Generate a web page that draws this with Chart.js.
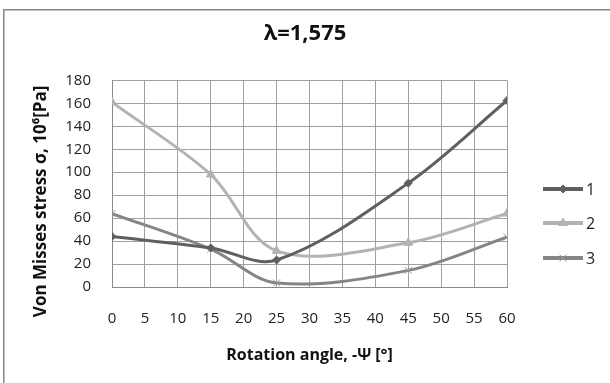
<!DOCTYPE html>
<html>
<head>
<meta charset="utf-8">
<script src="https://cdn.jsdelivr.net/npm/chart.js@4.4.1/dist/chart.umd.min.js"></script>
<style>
html,body{margin:0;padding:0;background:#fff;}
#wrap{position:relative;width:610px;height:383px;}
</style>
</head>
<body>
<div id="wrap"><canvas id="c" width="610" height="383"></canvas></div>
<script>
const chartTitle = "λ=1,575";
const xTitle = "Rotation angle, -Ψ [°]";
const yTitle = "Von Misses stress σ, 10⁶[Pa]";
const angles = [0, 15, 25, 45, 60];
const series1 = [44, 34, 23.5, 90.5, 162.5];
const series2 = [161, 98, 31.5, 38.5, 64];
const series3 = [64, 33, 3.5, 14.5, 43.5];
const seriesNames = ["1", "2", "3"];
const seriesColors = ["#5f5f5f", "#b3b3b3", "#858585"];
const markerStyles = ["rectRot", "triangle", "crossRot"];
const markerSizes = [4, 5, 5];

function pts(ys){ return angles.map((x,i)=>({x:x, y:ys[i]})); }
const allSeries = [series1, series2, series3];

const datasets = allSeries.map((s,i)=>({
  label: seriesNames[i],
  data: pts(s),
  showLine: true,
  borderColor: seriesColors[i],
  backgroundColor: seriesColors[i],
  borderWidth: 3,
  tension: 0.34,
  pointStyle: markerStyles[i],
  pointRadius: markerSizes[i],
  pointBorderWidth: 1,
  pointBorderColor: i===2 ? "#9a9a9a" : seriesColors[i],
  pointBackgroundColor: seriesColors[i]
}));

const frame = {
  id: 'frame',
  beforeDraw(chart){
    const ctx = chart.ctx;
    ctx.save();
    ctx.fillStyle = '#fff';
    ctx.fillRect(0,0,chart.width,chart.height);
    ctx.strokeStyle = '#868686';
    ctx.lineWidth = 1.5;
    ctx.strokeRect(3.75, 9.75, 700, 500);
    ctx.restore();
  }
};

const customLegend = {
  id: 'customLegend',
  afterDraw(chart){
    const ctx = chart.ctx;
    const x0 = 543, x1 = 583, ys = [189, 223, 258];
    chart.data.datasets.forEach((ds,i)=>{
      const y = ys[i];
      ctx.save();
      ctx.strokeStyle = ds.borderColor;
      ctx.lineWidth = 4;
      ctx.beginPath(); ctx.moveTo(x0,y); ctx.lineTo(x1,y); ctx.stroke();
      ctx.fillStyle = ds.pointBackgroundColor;
      ctx.strokeStyle = ds.pointBorderColor;
      ctx.lineWidth = 1;
      Chart.helpers.drawPoint(ctx, {pointStyle: ds.pointStyle, radius: ds.pointRadius, rotation: 0, borderWidth: 1}, (x0+x1)/2, y);
      ctx.fillStyle = '#222';
      ctx.font = '16px "Open Sans", sans-serif';
      ctx.textBaseline = 'middle';
      ctx.textAlign = 'left';
      ctx.fillText(ds.label, x1 + 3, y + 1);
      ctx.restore();
    });
  }
};

new Chart(document.getElementById('c'), {
  type: 'scatter',
  data: { datasets },
  plugins: [frame, customLegend],
  options: {
    responsive: false,
    animation: false,
    layout: { padding: { left: 0, right: 0, top: 21, bottom: 0 } },
    plugins: {
      legend: { display: false },
      tooltip: { enabled: false },
      title: {
        display: true,
        text: chartTitle,
        color: '#111',
        font: { family: '"Open Sans", sans-serif', size: 22, weight: 'bold' },
        padding: { top: 0, bottom: 33 }
      }
    },
    scales: {
      x: {
        type: 'linear',
        min: 0, max: 60,
        ticks: { stepSize: 5, padding: 23, color: '#222', font: { family: '"Open Sans", sans-serif', size: 15 } },
        grid: { color: '#a0a0a0', lineWidth: 1, drawTicks: false },
        border: { color: '#888', width: 1 },
        title: { display: true, text: xTitle, color: '#111', font: { family: '"Open Sans", sans-serif', size: 16, weight: 'bold' }, padding: { top: 0, bottom: 18 } },
        afterFit(scale){ scale.height = 96; }
      },
      y: {
        min: 0, max: 180,
        ticks: { stepSize: 20, padding: 21, color: '#222', font: { family: '"Open Sans", sans-serif', size: 15 } },
        grid: { color: '#a0a0a0', lineWidth: 1, drawTicks: false },
        border: { color: '#888', width: 1 },
        title: { display: true, text: yTitle + '        ', color: '#111', font: { family: '"Open Sans", sans-serif', size: 17, weight: 'bold' }, padding: { top: 31, bottom: 0 } },
        afterFit(scale){ scale.width = 112; }
      },
      legendSpace: {
        type: 'linear',
        position: 'right',
        display: true,
        grid: { display: false, drawTicks: false },
        border: { display: false },
        ticks: { display: false },
        afterFit(scale){ scale.width = 103; }
      }
    }
  }
});
</script>
</body>
</html>
